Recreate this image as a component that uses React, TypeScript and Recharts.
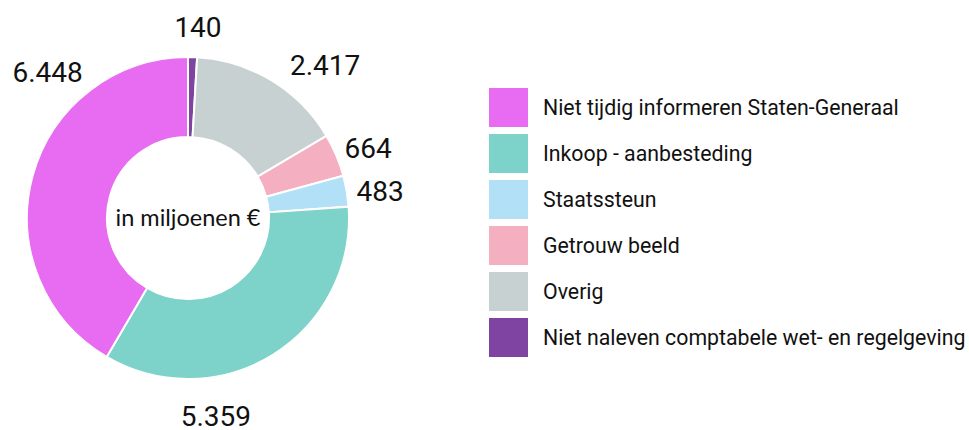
import { Cell, Pie, PieChart } from "recharts";

// slices in drawing order, clockwise from 12 o'clock
const categories = [
  "Niet naleven comptabele wet- en regelgeving",
  "Overig",
  "Getrouw beeld",
  "Staatssteun",
  "Inkoop - aanbesteding",
  "Niet tijdig informeren Staten-Generaal",
];
const values = [140, 2417, 664, 483, 5359, 6448];
const legendOrder = [
  "Niet tijdig informeren Staten-Generaal",
  "Inkoop - aanbesteding",
  "Staatssteun",
  "Getrouw beeld",
  "Overig",
  "Niet naleven comptabele wet- en regelgeving",
];

const COLORS: Record<string, string> = {
  "Niet tijdig informeren Staten-Generaal": "#E86CF1",
  "Inkoop - aanbesteding": "#7DD2C9",
  Staatssteun: "#B1E0F7",
  "Getrouw beeld": "#F4AFC0",
  Overig: "#C8D1D1",
  "Niet naleven comptabele wet- en regelgeving": "#7F44A1",
};

// where the value labels sit: angle clockwise from top (deg), distance from centre
const LABEL_POLAR = [
  { angle: 3, r: 191 },
  { angle: 42, r: 205 },
  { angle: 69, r: 193 },
  { angle: 82, r: 194 },
  { angle: 172, r: 200 },
  { angle: -44, r: 202 },
];

const FONT = "Roboto, sans-serif";

const rows = categories.map((name, i) => ({ name, value: values[i] }));

const fmt = (v: number) => v.toLocaleString("nl-NL");

function renderLabel(props: any) {
  const { cx, cy, index, value } = props;
  const p = LABEL_POLAR[index];
  const rad = (p.angle * Math.PI) / 180;
  const x = cx + p.r * Math.sin(rad);
  const y = cy - p.r * Math.cos(rad);
  return (
    <text
      x={x}
      y={y}
      textAnchor="middle"
      dominantBaseline="central"
      fontFamily={FONT}
      fontSize={28}
      fill="#111"
    >
      {fmt(value)}
    </text>
  );
}

function LegendBox() {
  return (
    <div style={{ position: "absolute", left: 489, top: 88, fontFamily: FONT }}>
      {legendOrder.map((name) => (
        <div
          key={name}
          style={{ display: "flex", alignItems: "center", height: 39, marginBottom: 7 }}
        >
          <div style={{ width: 39, height: 39, background: COLORS[name] }} />
          <span style={{ marginLeft: 15, fontSize: 21.3, color: "#111", whiteSpace: "nowrap" }}>
            {name}
          </span>
        </div>
      ))}
    </div>
  );
}

export default function App() {
  return (
    <div style={{ position: "absolute", left: 0, top: 0, width: 969, height: 430, background: "#fff" }}>
      <PieChart width={969} height={430} margin={{ top: 0, right: 0, bottom: 0, left: 0 }}>
        <Pie
          data={rows}
          dataKey="value"
          nameKey="name"
          cx={188}
          cy={218}
          innerRadius={81}
          outerRadius={161}
          startAngle={90}
          endAngle={-270}
          stroke="#fff"
          strokeWidth={2}
          label={renderLabel}
          labelLine={false}
          isAnimationActive={false}
        >
          {rows.map((r) => (
            <Cell key={r.name} fill={COLORS[r.name]} />
          ))}
        </Pie>
        <text
          x={188}
          y={217}
          textAnchor="middle"
          dominantBaseline="central"
          fontFamily="Lato, sans-serif"
          fontSize={23.5}
          fill="#111"
        >
          in miljoenen €
        </text>
      </PieChart>
      <LegendBox />
    </div>
  );
}
